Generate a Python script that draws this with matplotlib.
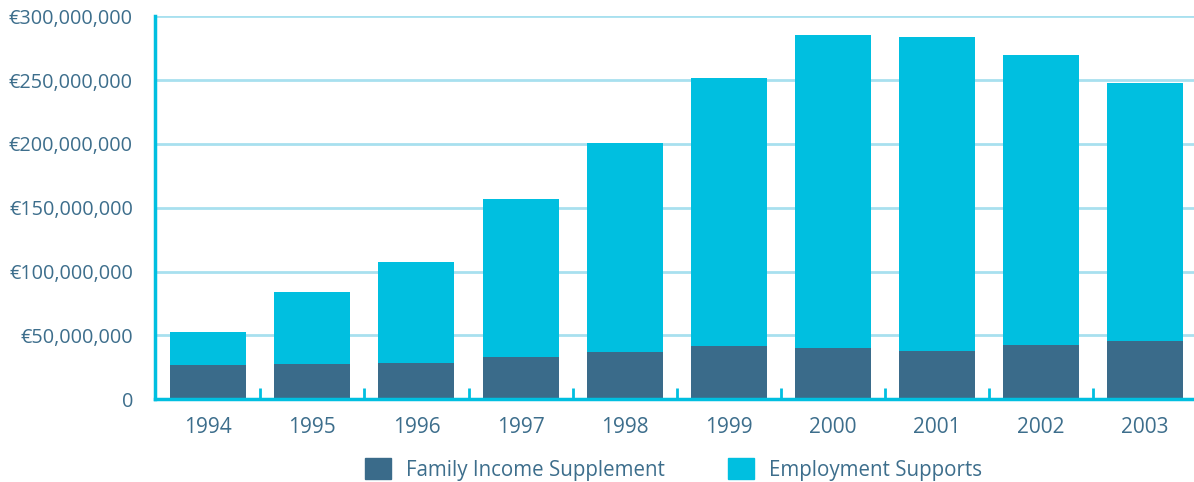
import numpy as np
import matplotlib.pyplot as plt
from matplotlib.patches import Patch
from matplotlib.ticker import FuncFormatter, FixedLocator

years = ['1994', '1995', '1996', '1997', '1998', '1999', '2000', '2001', '2002', '2003']
fis = [26.6, 27.4, 28.2, 32.9, 36.8, 41.5, 40.0, 37.6, 42.3, 45.5]          # million EUR
totals = [52.5, 83.9, 107.4, 156.7, 200.6, 251.6, 285.3, 283.7, 269.6, 247.6]
emp = [t - f for t, f in zip(totals, fis)]

dark = '#3a6b8a'
cyan = '#00bfe0'
grid = '#a8e0ef'
txt = '#3d6e8c'

plt.rcParams['font.family'] = ['Open Sans', 'DejaVu Sans']

fig = plt.figure(figsize=(11.94, 4.82), dpi=100)
ax = fig.add_axes([0.13, 0.172, 0.87, 0.794])

x = np.arange(len(years))
fis_v = np.array(fis) * 1e6
emp_v = np.array(emp) * 1e6
ax.bar(x, fis_v, width=0.73, color=dark, zorder=3)
ax.bar(x, emp_v, bottom=fis_v, width=0.73, color=cyan, zorder=3)

ax.set_xlim(-0.51, 9.47)
ax.set_ylim(0, 300e6)
ax.set_yticks(np.arange(0, 300e6 + 1, 50e6))
ax.yaxis.set_major_formatter(FuncFormatter(lambda v, p: '0' if v == 0 else '€{:,.0f}'.format(v)))
ax.set_xticks(x)
ax.set_xticklabels(years)
ax.xaxis.set_minor_locator(FixedLocator(x[:-1] + 0.5))

ax.grid(axis='y', color=grid, linewidth=2, zorder=0)
ax.tick_params(axis='y', length=0, pad=16, labelsize=14.3, labelcolor=txt)
ax.tick_params(axis='x', which='major', length=0, pad=13, labelsize=15, labelcolor=txt)
ax.tick_params(axis='x', which='minor', direction='in', length=8, width=2, color=cyan)

for s in ['top', 'right']:
    ax.spines[s].set_visible(False)
for s in ['left', 'bottom']:
    ax.spines[s].set_color(cyan)
    ax.spines[s].set_linewidth(2.5)
    ax.spines[s].set_zorder(4)

handles = [Patch(color=dark, label='Family Income Supplement'),
           Patch(color=cyan, label='Employment Supports')]
leg = fig.legend(handles=handles, loc='lower left', bbox_to_anchor=(0.29, -0.036), ncol=2,
                 frameon=False, fontsize=14.8, handlelength=1.26, handleheight=1.2,
                 columnspacing=3.1, handletextpad=0.73)
for t in leg.get_texts():
    t.set_color(txt)

fig.savefig('out.png', dpi=100)
